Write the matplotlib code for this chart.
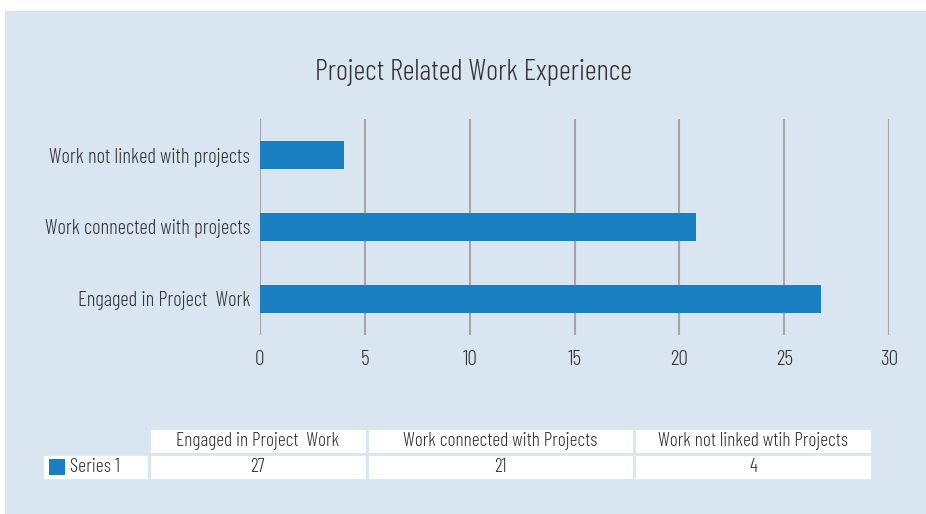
import matplotlib
matplotlib.use("Agg")
import matplotlib.pyplot as plt
from matplotlib.patches import Rectangle

categories = ["Engaged in Project  Work", "Work connected with projects", "Work not linked with projects"]
values = [26.75, 20.8, 4]
table_headers = ["Engaged in Project  Work", "Work connected with Projects", "Work not linked wtih Projects"]
table_values = ["27", "21", "4"]
series_name = "Series 1"
title = "Project Related Work Experience"
xticks = [0, 5, 10, 15, 20, 25, 30]

BG = "#dae5f2"
BAR = "#1a7fc1"
TXT = "#333333"
GRID = "#a6a6a6"
plt.rcParams["font.family"] = ["Barlow Condensed", "DejaVu Sans"]
plt.rcParams["font.weight"] = 300

W, H = 926, 514
fig = plt.figure(figsize=(W / 100, H / 100), dpi=100)
fig.patch.set_facecolor("white")
fig.patches.append(Rectangle((5 / W, 0), 1 - 5 / W, 1 - 11 / H, transform=fig.transFigure,
                             facecolor=BG, edgecolor="none", zorder=-10))

ax = fig.add_axes([260 / W, 1 - 335 / H, 629 / W, 216 / H])
ax.set_facecolor("none")
ax.barh(range(len(categories)), values, height=0.39, color=BAR, zorder=3)
ax.set_xlim(0, 30)
ax.set_ylim(-0.5, 2.5)
ax.set_xticks(xticks)
ax.set_xticklabels([str(t) for t in xticks])
ax.set_yticks(range(len(categories)))
ax.set_yticklabels(categories)
for s in ax.spines.values():
    s.set_visible(False)
ax.grid(axis="x", color=GRID, linewidth=1.5, zorder=0)
ax.tick_params(axis="both", length=0, labelsize=15, colors=TXT)
ax.tick_params(axis="x", labelsize=15.5, pad=10.5)
ax.tick_params(axis="y", labelsize=14.8, pad=7)

fig.text(473 / W, 1 - 72 / H, title, ha="center", va="center", fontsize=21, color=TXT)

# data table
col_w = [106, 217, 266, 237]
cell_text = [[""] + table_values]
tbl = ax.table(cellText=cell_text, colLabels=[""] + table_headers, colWidths=col_w,
               cellLoc="center",
               bbox=[(42 - 260) / 629, (335 - 480) / 216, (872 - 42) / 629, 52 / 216])
tbl.auto_set_font_size(False)
for (r, c), cell in tbl.get_celld().items():
    cell.set_facecolor("white")
    cell.set_edgecolor(BG)
    cell.set_linewidth(2)
    cell.get_text().set_fontsize(14)
    cell.get_text().set_color(TXT)
    if r == 0 and c == 0:
        cell.set_visible(False)

fig.patches.append(Rectangle((49 / W, 1 - 475 / H), 16 / W, 16 / H, transform=fig.transFigure,
                             facecolor=BAR, edgecolor="none", zorder=5))
fig.text(70 / W, 1 - 467 / H, series_name, ha="left", va="center", fontsize=14.3, color=TXT)

fig.savefig("out.png", dpi=100, facecolor=fig.get_facecolor())
